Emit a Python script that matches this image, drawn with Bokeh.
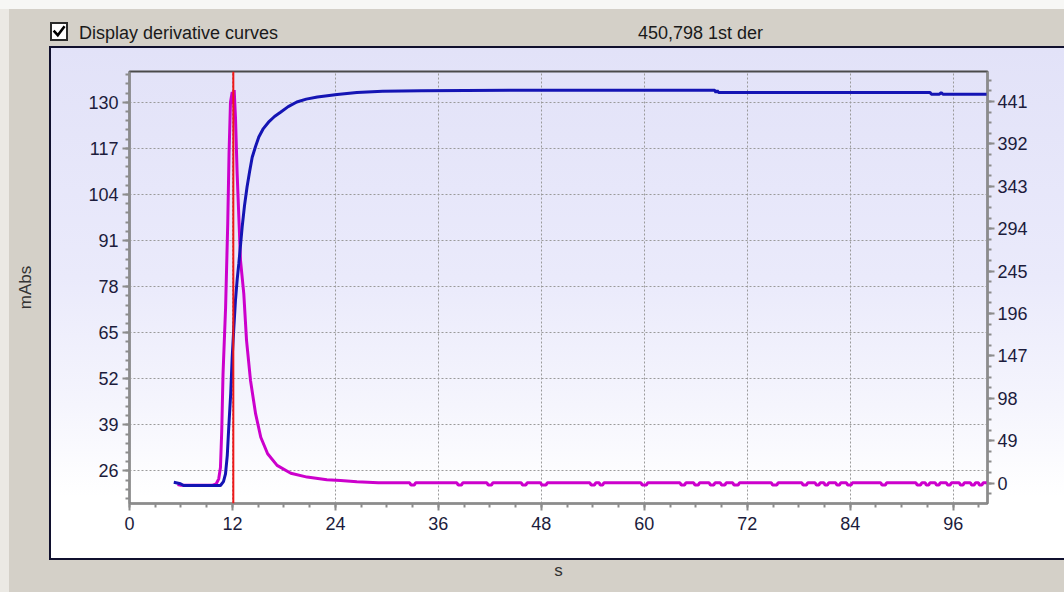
import numpy as np
from urllib.parse import quote
from bokeh.plotting import figure
from bokeh.models import Range1d, LinearAxis, FixedTicker, Span
from bokeh.embed import file_html
from bokeh.resources import INLINE

# ---------------- data ----------------
t_abs = [5.16, 5.94, 6.3, 8.5, 10.6, 10.95, 11.19, 11.4, 11.57, 11.8, 11.97, 12.15,
         12.35, 12.55, 12.74, 12.95, 13.13, 13.4, 13.7, 14.0, 14.3, 14.7, 15.07, 15.6,
         16.2, 16.9, 17.6, 18.5, 19.5, 20.6, 21.9, 24.2, 26.5, 29.5, 34.0, 45.0, 68.2,
         68.35, 68.5, 68.65, 80.0, 93.3, 93.45, 94.4, 94.6, 94.8, 100.0]
abs_mabs = [22.8, 22.4, 21.9, 21.9, 21.9, 23.0, 25.2, 30.5, 38.4, 48.0, 58.1, 66.0,
            74.1, 80.0, 84.5, 90.0, 94.8, 100.8, 106.1, 110.5, 114.5, 117.6, 120.2, 122.6,
            124.4, 126.0, 127.2, 128.8, 130.1, 130.9, 131.5, 132.2, 132.8, 133.1, 133.3, 133.4, 133.4,
            132.8, 133.3, 132.8, 132.8, 132.8, 132.3, 132.3, 132.7, 132.3, 132.3]

t_der = [5.6, 6.0, 9.6, 10.1, 10.4, 10.6, 10.75, 10.9, 11.2, 11.45, 11.6, 11.77, 11.97,
         12.08, 12.2, 12.35, 12.55, 12.94, 13.32, 13.64, 14.1, 14.7, 15.3, 16.1, 17.2,
         18.8, 20.7, 23.0, 24.6, 26.5, 29.0,
         32.65, 32.8, 33.2, 33.35, 38.15, 38.3, 38.7, 38.85, 41.65, 41.8, 42.2, 42.35,
         45.65, 45.8, 46.2, 46.35, 47.9, 48.05, 48.55, 48.7, 53.65, 53.8, 54.2, 54.35,
         54.75, 54.85, 55.15, 55.3, 59.6, 59.75, 60.25, 60.4, 64.15, 64.3, 64.7, 64.85,
         65.75, 65.9, 66.3, 66.45, 67.55, 67.7, 68.1, 68.25, 68.85, 69.0, 69.4, 69.55,
         70.3, 70.45, 70.95, 71.1, 74.8, 74.95, 75.45, 75.6, 78.35, 78.5, 78.9, 79.05,
         79.9, 80.05, 80.35, 80.5, 80.95, 81.05, 81.35, 81.5, 82.3, 82.45, 82.75, 82.9,
         83.55, 83.7, 84.1, 84.25, 87.55, 87.7, 88.1, 88.25, 91.65, 91.8, 92.2, 92.35,
         92.75, 92.85, 93.15, 93.3, 93.9, 94.05, 94.35, 94.5, 95.2, 95.35, 95.65, 95.8,
         96.7, 96.85, 97.15, 97.3, 98.0, 98.15, 98.45, 98.6, 98.95, 99.05, 99.35, 99.5,
         100.0]
der_1st = [-1.5, -2.5, -2.5, -1.0, 5, 18, 60, 126, 203, 300, 380, 440, 452,
           438, 454, 423, 357, 257, 219, 165, 119, 80, 53, 34, 20.5,
           11.5, 7, 4, 3, 1.5, 0.5,
           0.5, -2, -2, 0.5, 0.5, -2, -2, 0.5, 0.5, -2, -2, 0.5,
           0.5, -2, -2, 0.5, 0.5, -2, -2, 0.5, 0.5, -2, -2, 0.5,
           0.5, -2, -2, 0.5, 0.5, -2, -2, 0.5, 0.5, -2, -2, 0.5,
           0.5, -2, -2, 0.5, 0.5, -2, -2, 0.5, 0.5, -2, -2, 0.5,
           0.5, -2, -2, 0.5, 0.5, -2, -2, 0.5, 0.5, -2, -2, 0.5,
           0.5, -2, -2, 0.5, 0.5, -2, -2, 0.5, 0.5, -2, -2, 0.5,
           0.5, -2, -2, 0.5, 0.5, -2, -2, 0.5, 0.5, -2, -2, 0.5,
           0.5, -2, -2, 0.5, 0.5, -2, -2, 0.5, 0.5, -2, -2, 0.5,
           0.5, -2, -2, 0.5, 0.5, -2, -2, 0.5, 0.5, -2, -2, 0.5,
           0.5]

cursor_s = 12.1

x_major = [0, 12, 24, 36, 48, 60, 72, 84, 96]
y_left_major = [26, 39, 52, 65, 78, 91, 104, 117, 130]
y_right_major = [0, 49, 98, 147, 196, 245, 294, 343, 392, 441]

checkbox_text = "Display derivative curves"
header_text = "450,798 1st der"

# ---------------- layout ----------------
FL, FR, FT, FB = 129, 987, 71, 503   # frame edges in page pixels
W, H = 1064, 592

FONT = "Liberation Sans"
LABEL_COLOR = "#1c1c3c"
AXIS_COLOR = "#8c8c8c"

p = figure(width=W, height=H, output_backend="svg", toolbar_location=None,
           x_range=Range1d(0, 100), y_range=Range1d(16.83, 138.7),
           min_border_left=FL, min_border_right=W - FR,
           min_border_top=FT, min_border_bottom=H - FB,
           x_axis_label="s", y_axis_label="mAbs")
p.extra_y_ranges = {"der": Range1d(-23.5, 475.6)}
# page-pixel range used only to place the window header texts above the frame
p.extra_x_ranges = {"win": Range1d(FL, FR)}

check_svg = ("<svg xmlns='http://www.w3.org/2000/svg' width='18' height='19'>"
             "<path d='M4.5 9.5 L7.8 13.2 L13.8 5.2' fill='none' stroke='black' "
             "stroke-width='2.6' stroke-linecap='square'/></svg>")
layers = [
    "url(\"data:image/svg+xml;charset=utf-8," + quote(check_svg) + "\") 50px 22px / 18px 19px no-repeat",
    "linear-gradient(#ffffff,#ffffff) 52px 24px / 14px 15px no-repeat",
    "linear-gradient(#2a2a2a,#2a2a2a) 50px 22px / 18px 19px no-repeat",
    "linear-gradient(#10102e,#10102e) 49px 46px / 1015px 2px no-repeat",
    "linear-gradient(#10102e,#10102e) 49px 46px / 2px 514px no-repeat",
    "linear-gradient(#10102e,#10102e) 49px 558px / 1015px 2px no-repeat",
    "linear-gradient(180deg,#e2e2f8 0%,#eaeafb 45%,#f5f5fd 70%,#ffffff 88%) 51px 48px / 1013px 510px no-repeat",
    "linear-gradient(#f7f7f5,#f7f7f5) 0px 0px / 1064px 9px no-repeat",
    "linear-gradient(#ebe9e4,#ebe9e4) 0px 0px / 9px 592px no-repeat",
    "#d4d0c8",
]
p.styles = {"background": ", ".join(layers)}
p.border_fill_alpha = 0
p.background_fill_alpha = 0
p.outline_line_color = "#4a4a4a"
p.outline_line_width = 2

# tickers
x_ticker = FixedTicker(ticks=x_major, minor_ticks=list(np.arange(0, 100.1, 3.0)))
yl_ticker = FixedTicker(ticks=y_left_major, minor_ticks=list(np.arange(18.2, 138.8, 2.6)))
yr_ticker = FixedTicker(ticks=y_right_major, minor_ticks=list(np.arange(-12.25, 476, 12.25)))

p.xaxis.ticker = x_ticker
p.yaxis.ticker = yl_ticker
p.xgrid.ticker = x_ticker
p.ygrid.ticker = yl_ticker

right_axis = LinearAxis(y_range_name="der", ticker=yr_ticker)
p.add_layout(right_axis, "right")

for ax in [p.xaxis[0], p.yaxis[0], right_axis]:
    ax.axis_line_color = AXIS_COLOR
    ax.axis_line_width = 2
    ax.major_tick_line_color = AXIS_COLOR
    ax.major_tick_line_width = 2
    ax.minor_tick_line_color = AXIS_COLOR
    ax.minor_tick_line_width = 2
    ax.major_tick_out = 7
    ax.major_tick_in = 0
    ax.minor_tick_out = 4
    ax.minor_tick_in = 0
    ax.major_label_text_font = FONT
    ax.major_label_text_font_size = "18px"
    ax.major_label_text_color = LABEL_COLOR
    ax.axis_label_text_font = FONT
    ax.axis_label_text_font_size = "17px"
    ax.axis_label_text_font_style = "normal"
    ax.axis_label_text_color = "#333333"

p.yaxis[0].major_label_standoff = 4
p.yaxis[0].axis_label_standoff = 50
p.xaxis[0].major_label_standoff = 6
p.xaxis[0].axis_label_standoff = 28
right_axis.major_label_standoff = 3

# header texts of the window, drawn as tick labels of a bare axis above the frame
header_pos = [178, 700]
header_axis = LinearAxis(x_range_name="win",
                         ticker=FixedTicker(ticks=header_pos, minor_ticks=[]),
                         major_label_overrides={header_pos[0]: checkbox_text,
                                                header_pos[1]: header_text})
header_axis.axis_line_color = None
header_axis.major_tick_line_color = None
header_axis.minor_tick_line_color = None
header_axis.major_tick_out = 0
header_axis.major_tick_in = 0
header_axis.major_label_standoff = 29
header_axis.major_label_text_font = FONT
header_axis.major_label_text_font_size = "18px"
header_axis.major_label_text_color = "#1a1a1a"
p.add_layout(header_axis, "above")

for g in [p.xgrid[0], p.ygrid[0]]:
    g.grid_line_color = "#9a9a9a"
    g.grid_line_dash = "2 2"
    g.grid_line_width = 1

# curves
p.line(t_der, der_1st, y_range_name="der", line_color="#cc00cc", line_width=3)
p.line(t_abs, abs_mabs, line_color="#1414b4", line_width=3)
p.add_layout(Span(location=cursor_s, dimension="height", line_color="#f01818", line_width=2))

open("out.html", "w").write(file_html(p, INLINE))
